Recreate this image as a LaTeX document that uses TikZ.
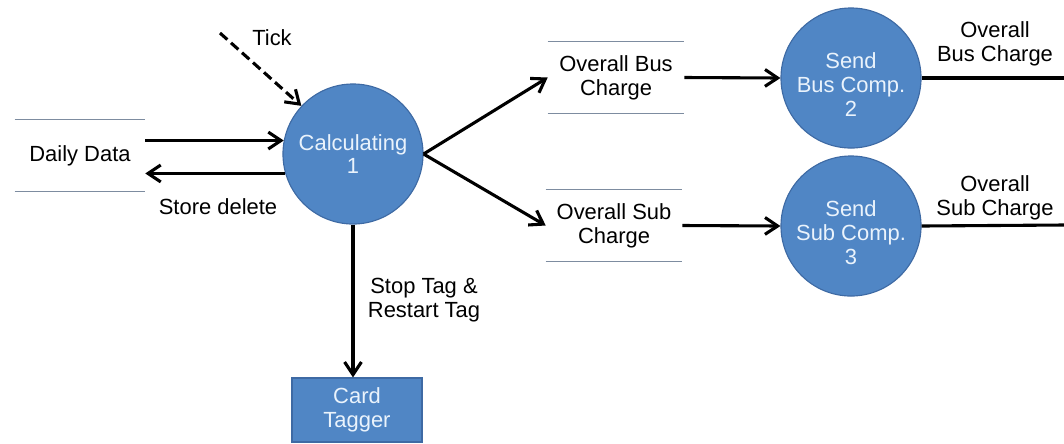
\documentclass[tikz,border=0pt]{standalone}
\usepackage{fontspec}
\setmainfont{Liberation Sans}
\usetikzlibrary{arrows.meta}
\definecolor{bubblefill}{RGB}{80,134,197}
\definecolor{bubbleedge}{RGB}{62,106,164}
\definecolor{bubbletext}{RGB}{234,243,252}
\definecolor{storeline}{RGB}{125,140,160}
\tikzstyle{bubble} = [circle, minimum size=3.5cm, inner sep=0pt, align=center, draw=bubbleedge, line width=0.8pt, fill=bubblefill, text=bubbletext]
\tikzstyle{store} = [minimum width=3.4cm, minimum height=1.775cm, inner sep=0pt, align=center]
\tikzstyle{entity} = [rectangle, minimum width=3.25cm, minimum height=1.6cm, align=center, draw=bubbleedge, line width=0.8pt, fill=bubblefill, text=bubbletext]
\tikzstyle{storeedge} = [draw=storeline, line width=1.1pt]
\tikzstyle{flow} = [line width=2.2pt]
\tikzstyle{inside} = [text=bubbletext, align=center, yshift=-0.17cm]

\begin{document}
\begin{tikzpicture}[x=0.025cm, y=-0.025cm, font=\fontsize{15.6}{17}\selectfont]
    \useasboundingbox (0,0) rectangle (1064,443);
        \node[bubble] (calc) at (353,154) {Calculating\\1};
        \node[bubble, label={[inside]center:Send\\Bus Comp.\\2}] (sendbus) at (851,78) {};
        \node[bubble, label={[inside]center:Send\\Sub Comp.\\3}] (sendsub) at (851,226) {};
        \node[store, minimum width=3.25cm] (daily) at (80,155.5) {Daily Data};
        \node[store] (busstore) at (616,77.5) {Overall Bus\\Charge};
        \node[store] (substore) at (614,225.5) {Overall Sub\\Charge};
        \node[entity] (card) at (357,410) {Card\\Tagger};
        \coordinate (tick) at (220,33);
        \coordinate (busout) at (1064,78);
        \coordinate (subout) at (1064,225);
        \node (ticklabel) at (272,38) {Tick};
        \node (deletelabel) at (218,207) {Store delete};
        \node[align=center] (taglabel) at (424,300) {Stop Tag \&\\Restart Tag};
        \node[align=center] (buslabel) at (995,44) {Overall\\Bus Charge};
        \node[align=center] (sublabel) at (995,198) {Overall\\Sub Charge};
        \draw[storeedge] (daily.north west) -- (daily.north east);
        \draw[storeedge] (daily.south west) -- (daily.south east);
        \draw[storeedge] (busstore.north west) -- (busstore.north east);
        \draw[storeedge] (busstore.south west) -- (busstore.south east);
        \draw[storeedge] (substore.north west) -- (substore.north east);
        \draw[storeedge] (substore.south west) -- (substore.south east);
    \begin{scope}[flow, -{Straight Barb[length=9pt, width=12pt]}]
        \draw (daily.east |- calc.169) -- (calc.169);
        \draw (calc.196) -- (daily.east |- calc.196);
        \draw[dash pattern=on 7pt off 3.5pt] (tick) -- (calc.137);
        \draw (calc.east) -- (busstore.west);
        \draw (calc.east) -- (substore.west);
        \draw (busstore.east) -- (sendbus.west);
        \draw (substore.east) -- (sendsub.west);
        \draw (calc.south) -- (calc.south |- card.north);
    \end{scope}
        \draw[flow] (sendbus.east) -- (busout);
        \draw[flow] (sendsub.east) -- (subout);
    \end{tikzpicture}
\end{document}
